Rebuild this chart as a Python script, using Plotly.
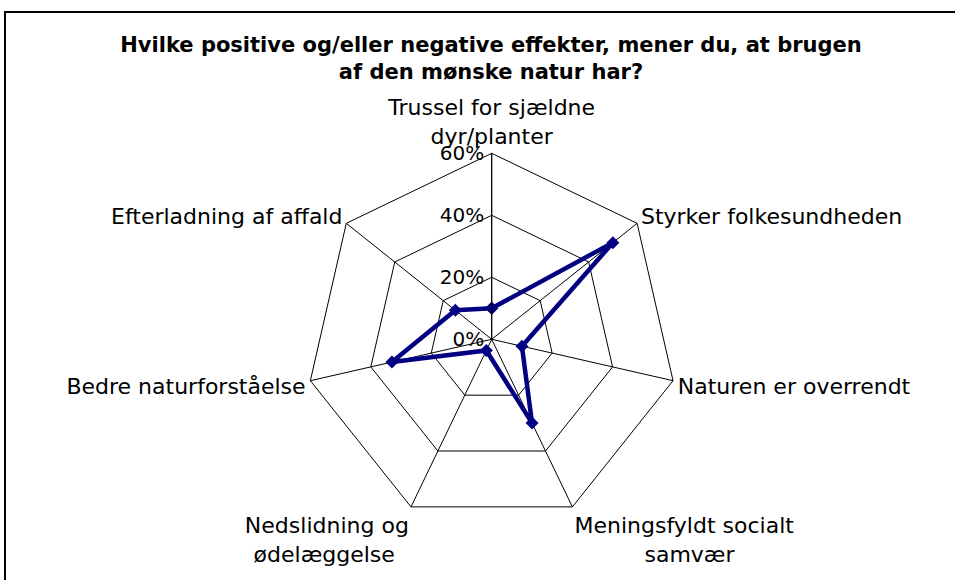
import plotly.graph_objects as go

categories = [
    "Trussel for sjældne dyr/planter",
    "Styrker folkesundheden",
    "Naturen er overrendt",
    "Meningsfyldt socialt samvær",
    "Nedslidning og ødelæggelse",
    "Bedre naturforståelse",
    "Efterladning af affald",
]
values = [0.10, 0.50, 0.10, 0.30, 0.04, 0.33, 0.15]
radial_ticks = [0, 0.2, 0.4, 0.6]

title_text = "Hvilke positive og/eller negative effekter, mener du, at brugen<br>af den mønske natur har?"

# display text for the category labels (line breaks as in the original)
NB = "\u00a0"
label_text = {
    "Trussel for sjældne dyr/planter": "Trussel for sjældne<br>dyr/planter",
    "Meningsfyldt socialt samvær": "Meningsfyldt socialt<br>" + NB * 10 + "samvær",
    "Nedslidning og ødelæggelse": "Nedslidning og<br>ødelæggelse" + NB * 2,
}
ticktext = [label_text.get(c, c) for c in categories]

W, H = 955, 580
cx, cy, R = 491.7, 339.3, 186.0

fig = go.Figure()
fig.add_trace(go.Scatterpolar(
    r=values + values[:1],
    theta=categories + categories[:1],
    mode="lines+markers",
    line=dict(color="#000080", width=4.5),
    marker=dict(symbol="diamond", size=10, color="#000080"),
    showlegend=False,
    hoverinfo="skip",
))

fig.update_layout(
    width=W, height=H,
    margin=dict(l=0, r=0, t=0, b=0),
    paper_bgcolor="white",
    plot_bgcolor="white",
    font=dict(family="DejaVu Sans", color="black", size=20),
    title=dict(
        text=title_text,
        font=dict(family="DejaVu Sans", size=21, color="black", weight="bold"),
        x=491 / W, xanchor="center",
        y=1 - 52 / H, yanchor="top",
    ),
    polar=dict(
        domain=dict(x=[(cx - R) / W, (cx + R) / W], y=[(H - cy - R) / H, (H - cy + R) / H]),
        bgcolor="white",
        gridshape="linear",
        angularaxis=dict(
            direction="clockwise",
            rotation=90,
            tickmode="array",
            tickvals=categories,
            ticktext=ticktext,
            showline=True, linecolor="black", linewidth=1,
            showgrid=True, gridcolor="black", gridwidth=1,
            ticks="",
            tickfont=dict(family="DejaVu Sans", size=22, color="black"),
        ),
        radialaxis=dict(
            range=[0, 0.6],
            tickvals=radial_ticks,
            tickformat=".0%",
            angle=90,
            side="counterclockwise",
            tickangle=90,
            showline=True, linecolor="black", linewidth=1,
            showgrid=True, gridcolor="black", gridwidth=1,
            ticks="",
            tickfont=dict(family="DejaVu Sans", size=20, color="black"),
        ),
    ),
    shapes=[dict(
        type="rect", xref="paper", yref="paper",
        x0=5 / W, x1=1.02, y0=-0.02, y1=1 - 12 / H,
        line=dict(color="black", width=2), fillcolor="rgba(0,0,0,0)",
        layer="below",
    )],
)

fig.write_html(
    "out.html",
    config={"displayModeBar": False},
    post_script="document.body.style.margin='0';document.body.style.padding='0';",
)
